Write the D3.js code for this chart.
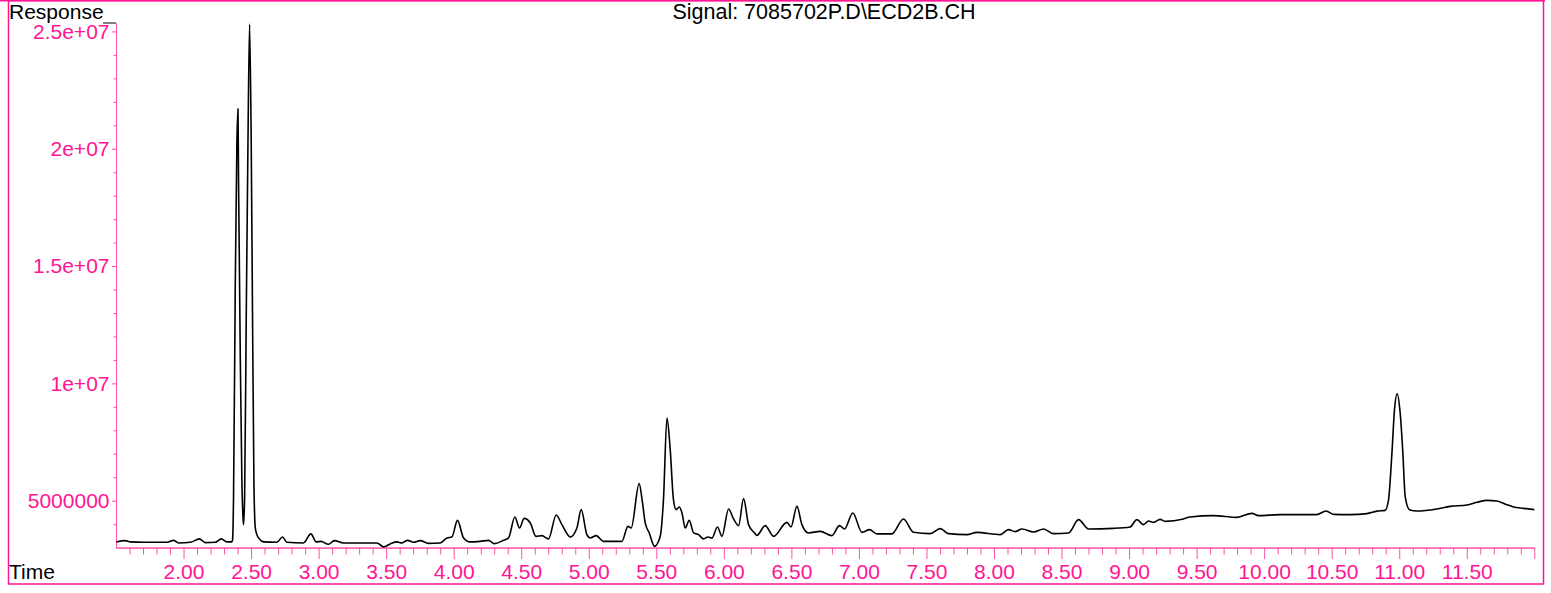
<!DOCTYPE html>
<html>
<head>
<meta charset="utf-8">
<script src="https://cdn.jsdelivr.net/npm/d3@7"></script>
<style>
  html, body { margin: 0; padding: 0; background: #fff; }
  svg { display: block; }
  text { font-family: "Liberation Sans", Arial, Helvetica, sans-serif; }
</style>
</head>
<body>
<svg id="chart" width="1551" height="593"></svg>
<script>
// Chromatogram trace: retention time (min) and detector response
const times = [
  1.502, 1.568, 1.605, 1.702, 1.879, 1.926, 1.963, 2.050, 2.118, 2.161,
  2.235, 2.279, 2.321, 2.358, 2.363, 2.370, 2.383, 2.395, 2.403, 2.407,
  2.420, 2.432, 2.440, 2.444, 2.452, 2.464, 2.477, 2.489, 2.501, 2.511,
  2.521, 2.531, 2.543, 2.560, 2.592, 2.691, 2.733, 2.765, 2.888, 2.943,
  2.982, 3.017, 3.073, 3.116, 3.184, 3.333, 3.432, 3.481, 3.530, 3.580,
  3.617, 3.658, 3.703, 3.752, 3.814, 3.900, 3.950, 3.987, 4.028, 4.073,
  4.122, 4.196, 4.258, 4.300, 4.369, 4.406, 4.453, 4.487, 4.522, 4.567,
  4.609, 4.653, 4.702, 4.759, 4.801, 4.863, 4.912, 4.944, 4.986, 5.011,
  5.055, 5.109, 5.245, 5.290, 5.314, 5.373, 5.398, 5.418, 5.448, 5.487,
  5.529, 5.553, 5.579, 5.603, 5.627, 5.647, 5.670, 5.690, 5.714, 5.744,
  5.776, 5.813, 5.850, 5.882, 5.912, 5.953, 5.986, 6.035, 6.072, 6.109,
  6.146, 6.183, 6.227, 6.245, 6.306, 6.368, 6.467, 6.497, 6.541, 6.578,
  6.627, 6.713, 6.800, 6.856, 6.893, 6.955, 7.022, 7.079, 7.133, 7.244,
  7.330, 7.404, 7.528, 7.602, 7.663, 7.800, 7.873, 8.046, 8.107, 8.157,
  8.207, 8.293, 8.367, 8.441, 8.552, 8.626, 8.700, 8.885, 9.008, 9.058,
  9.107, 9.144, 9.181, 9.230, 9.267, 9.403, 9.452, 9.625, 9.798, 9.909,
  9.958, 10.119, 10.390, 10.459, 10.513, 10.637, 10.761, 10.835, 10.896, 10.921,
  10.946, 10.965, 10.985, 11.007, 11.027, 11.044, 11.076, 11.131, 11.279, 11.377,
  11.501, 11.575, 11.649, 11.723, 11.797, 11.846, 11.920, 12.000
];

const response = [
  3.242e6, 3.297e6, 3.242e6, 3.225e6, 3.225e6, 3.310e6, 3.199e6, 3.225e6, 3.370e6, 3.212e6,
  3.225e6, 3.370e6, 3.242e6, 3.242e6, 3.340e6, 5.086e6, 14.20e6, 20.27e6, 21.70e6, 18.76e6,
  11.18e6, 5.853e6, 4.320e6, 3.979e6, 5.086e6, 12.67e6, 20.27e6, 25.31e6, 20.27e6, 12.67e6,
  5.853e6, 3.851e6, 3.553e6, 3.382e6, 3.242e6, 3.225e6, 3.455e6, 3.225e6, 3.199e6, 3.583e6,
  3.242e6, 3.267e6, 3.140e6, 3.297e6, 3.199e6, 3.199e6, 3.199e6, 3.029e6, 3.157e6, 3.242e6,
  3.199e6, 3.310e6, 3.225e6, 3.297e6, 3.182e6, 3.199e6, 3.412e6, 3.455e6, 4.162e6, 3.412e6,
  3.242e6, 3.267e6, 3.310e6, 3.169e6, 3.310e6, 3.412e6, 4.307e6, 3.838e6, 4.247e6, 4.051e6,
  3.480e6, 3.510e6, 3.370e6, 4.392e6, 3.979e6, 3.455e6, 3.838e6, 4.618e6, 3.553e6, 3.412e6,
  3.510e6, 3.267e6, 3.267e6, 3.906e6, 3.838e6, 5.725e6, 4.903e6, 4.051e6, 3.625e6, 3.054e6,
  3.480e6, 5.044e6, 8.524e6, 7.174e6, 5.044e6, 4.618e6, 4.733e6, 4.477e6, 3.838e6, 4.162e6,
  3.625e6, 3.553e6, 3.370e6, 3.455e6, 3.412e6, 3.881e6, 3.480e6, 4.648e6, 4.222e6, 3.936e6,
  5.086e6, 3.979e6, 3.625e6, 3.523e6, 3.936e6, 3.480e6, 4.077e6, 3.881e6, 4.758e6, 3.979e6,
  3.625e6, 3.693e6, 3.510e6, 3.936e6, 3.796e6, 4.477e6, 3.651e6, 3.766e6, 3.583e6, 3.583e6,
  4.222e6, 3.651e6, 3.595e6, 3.808e6, 3.595e6, 3.553e6, 3.651e6, 3.553e6, 3.766e6, 3.681e6,
  3.796e6, 3.668e6, 3.796e6, 3.595e6, 3.625e6, 4.192e6, 3.796e6, 3.821e6, 3.881e6, 4.192e6,
  3.979e6, 4.136e6, 4.077e6, 4.205e6, 4.119e6, 4.222e6, 4.307e6, 4.362e6, 4.290e6, 4.460e6,
  4.362e6, 4.405e6, 4.405e6, 4.562e6, 4.418e6, 4.405e6, 4.447e6, 4.554e6, 4.588e6, 5.044e6,
  7.033e6, 8.878e6, 9.559e6, 8.737e6, 7.033e6, 5.184e6, 4.618e6, 4.562e6, 4.648e6, 4.758e6,
  4.818e6, 4.929e6, 5.014e6, 4.988e6, 4.831e6, 4.733e6, 4.673e6, 4.618e6
];

// Axis ticks and labels
const xLabelTicks = [2.0, 2.5, 3.0, 3.5, 4.0, 4.5, 5.0, 5.5, 6.0, 6.5, 7.0, 7.5, 8.0, 8.5, 9.0, 9.5, 10.0, 10.5, 11.0, 11.5, 12.0];
const xTickLabels = ["2.00", "2.50", "3.00", "3.50", "4.00", "4.50", "5.00", "5.50", "6.00", "6.50", "7.00", "7.50", "8.00", "8.50", "9.00", "9.50", "10.00", "10.50", "11.00", "11.50", ""];
const yLabelTicks = [5e6, 1e7, 1.5e7, 2e7, 2.5e7];
const yTickLabels = ["5000000", "1e+07", "1.5e+07", "2e+07", "2.5e+07"];

const titleText = "Signal: 7085702P.D\\ECD2B.CH";
const yTitle = "Response";
const xTitle = "Time";

const PINK = "#ff1493";
const AXIS_PINK = "#ff4fa7";

const svg = d3.select("#chart");

const x = d3.scaleLinear().domain([1.5, 12.0]).range([116, 1534.3]);
const y = d3.scaleLinear().domain([3e6, 25.36e6]).range([547.6, 23]);

// Outer frame
svg.append("line")
  .attr("x1", 0).attr("x2", 1545).attr("y1", 0.75).attr("y2", 0.75)
  .attr("stroke", PINK).attr("stroke-width", 1.5);
svg.append("rect")
  .attr("x", 8.5).attr("y", 0.5).attr("width", 1535).attr("height", 583.5)
  .attr("fill", "none").attr("stroke", PINK).attr("stroke-width", 1.5);

// X axis: minor ticks every 0.1 min, longer ticks every 0.5 min
const xMinor = d3.range(16, 121).filter(d => d % 5 !== 0).map(d => d / 10);
const xMinorAxis = d3.axisBottom(x).tickValues(xMinor).tickSize(7).tickSizeOuter(0).tickFormat("");
const gxMinor = svg.append("g").attr("transform", "translate(0,547.6)").call(xMinorAxis);

const xMajorAxis = d3.axisBottom(x).tickValues(xLabelTicks).tickSize(11.5).tickSizeOuter(0)
  .tickPadding(5).tickFormat((d, i) => xTickLabels[i]);
const gxMajor = svg.append("g").attr("transform", "translate(0,547.6)").call(xMajorAxis);

// Y axis: minor ticks every 1e6, labelled ticks every 5e6
const yMinor = d3.range(4, 26).filter(d => d % 5 !== 0).map(d => d * 1e6);
const yMinorAxis = d3.axisLeft(y).tickValues(yMinor).tickSize(2.5).tickSizeOuter(0).tickFormat("");
const gyMinor = svg.append("g").attr("transform", "translate(116,0)").call(yMinorAxis);

const yMajorAxis = d3.axisLeft(y).tickValues(yLabelTicks).tickSize(4).tickSizeOuter(0)
  .tickPadding(2.5).tickFormat((d, i) => yTickLabels[i]);
const gyMajor = svg.append("g").attr("transform", "translate(116,0)").call(yMajorAxis);

[gxMinor, gxMajor, gyMinor, gyMajor].forEach(g => {
  g.selectAll("path.domain").attr("stroke", AXIS_PINK).attr("stroke-width", 1);
  g.selectAll(".tick line").attr("stroke", AXIS_PINK).attr("stroke-width", 1);
  g.selectAll(".tick text")
    .attr("fill", PINK)
    .style("font-size", "21px")
    .style("font-family", "'Liberation Sans', Arial, Helvetica, sans-serif");
});

// Short marker at the top of the response axis
svg.append("line")
  .attr("x1", 103).attr("x2", 116).attr("y1", 23).attr("y2", 23)
  .attr("stroke", "#000").attr("stroke-width", 1);

// Trace
const line = d3.line()
  .x((d, i) => x(times[i]))
  .y((d, i) => y(response[i]))
  .curve(d3.curveMonotoneX);

svg.append("path")
  .datum(response)
  .attr("d", line)
  .attr("fill", "none")
  .attr("stroke", "#000")
  .attr("stroke-width", 1.6)
  .attr("stroke-linejoin", "round");

// Titles
svg.append("text")
  .attr("x", 9).attr("y", 18.5)
  .attr("fill", "#000").style("font-size", "21px")
  .text(yTitle);

svg.append("text")
  .attr("x", 9).attr("y", 579)
  .attr("fill", "#000").style("font-size", "21px")
  .text(xTitle);

svg.append("text")
  .attr("x", 824).attr("y", 19)
  .attr("text-anchor", "middle")
  .attr("fill", "#000").style("font-size", "21.5px")
  .text(titleText);
</script>
</body>
</html>
